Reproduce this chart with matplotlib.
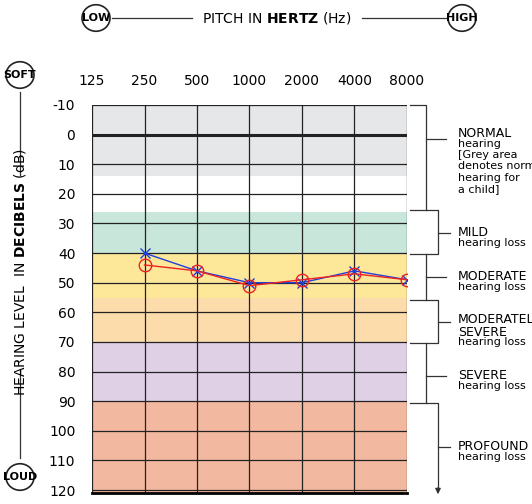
import matplotlib
matplotlib.use("Agg")
import matplotlib.pyplot as plt
from matplotlib.lines import Line2D
from matplotlib.patches import Circle, FancyArrowPatch

freqs = [125, 250, 500, 1000, 2000, 4000, 8000]
levels = list(range(-10, 130, 10))
x_freqs = [250, 500, 1000, 2000, 4000, 8000]
x_values = [40, 46, 50, 50, 46, 49]      # blue crosses
o_values = [44, 46, 51, 49, 47, 49]      # red circles

bands = [(-10, 14, "#e6e7e8"), (26, 40, "#c8e6da"), (40, 55, "#fde799"),
         (55, 70, "#fddcab"), (70, 90, "#dfd0e6"), (90, 121, "#f2b8a0")]

W, H = 532, 504
fig = plt.figure(figsize=(W / 100, H / 100), dpi=100)
ax = fig.add_axes([92 / W, 1 - 493 / H, 315 / W, 388 / H])


def px(x, y):
    return x / W, 1 - y / H


def fline(xs, ys, **kw):
    fx = [x / W for x in xs]
    fy = [1 - y / H for y in ys]
    fig.add_artist(Line2D(fx, fy, transform=fig.transFigure, color="#333",
                          lw=0.9, **kw))


idx = {f: i for i, f in enumerate(freqs)}
for lo, hi, c in bands:
    ax.axhspan(lo, hi, color=c, lw=0, zorder=0)
for i in range(len(freqs)):
    ax.axvline(i, color="#222", lw=0.9, zorder=1)
for lv in levels:
    ax.axhline(lv, color="#222", lw=2.2 if lv == 0 else 0.9, zorder=1)

xs = [idx[f] for f in x_freqs]
ax.plot(xs, x_values, color="#1f3fdb", lw=1, marker="x", ms=7, mew=1, zorder=3)
ax.plot(xs, o_values, color="#ee2222", lw=1, marker="o", ms=9, mfc="none",
        mew=1, zorder=3)

ax.set_xlim(0, 6)
ax.set_ylim(121, -10)
ax.xaxis.tick_top()
ax.set_xticks(range(len(freqs)))
ax.set_xticklabels([str(f) for f in freqs], fontsize=10)
ax.set_yticks(levels)
ax.set_yticklabels([str(l) for l in levels], fontsize=10)
ax.tick_params(length=0, pad=12)
for s in ax.spines.values():
    s.set_visible(False)
ax.spines["bottom"].set_visible(True)
ax.spines["bottom"].set_linewidth(2)

# header
for cx, lab in [(96, "LOW"), (462, "HIGH")]:
    fig.add_artist(Circle(px(cx, 18), 14 / W, transform=fig.transFigure,
                          fc="white", ec="#222", lw=1.2))
    fig.text(*px(cx, 18), lab, ha="center", va="center", fontsize=8,
             fontweight="bold")
fline([112, 192], [18, 18])
fline([362, 446], [18, 18])
fig.text(*px(277, 18), "PITCH IN $\\mathbf{HERTZ}$ (Hz)", ha="center",
         va="center", fontsize=10)

# left axis
for cy, lab in [(75, "SOFT"), (477, "LOUD")]:
    fig.add_artist(Circle(px(20, cy), 14 / W, transform=fig.transFigure,
                          fc="white", ec="#222", lw=1.2))
    fig.text(*px(20, cy), lab, ha="center", va="center", fontsize=8,
             fontweight="bold")
fline([20, 20], [92, 175])
fline([20, 20], [370, 458])
fig.text(*px(20, 272), "HEARING LEVEL  IN $\\mathbf{DECIBELS}$ (dB)",
         ha="center", va="center", rotation=90, fontsize=10)

# right brackets
fline([410, 426, 426], [105, 105, 210])
fline([426, 446], [139, 139])
fline([410, 438, 438, 410], [210, 210, 254, 254])
fline([438, 450], [233, 233])
fline([426, 426], [254, 300])
fline([426, 446], [277, 277])
fline([410, 438, 438, 410], [300, 300, 343, 343])
fline([438, 450], [322, 322])
fline([426, 426], [343, 403])
fline([426, 446], [376, 376])
fline([410, 438, 438], [403, 403, 490])
fline([438, 450], [447, 447])
fig.add_artist(FancyArrowPatch(px(438, 485), px(438, 497),
                               transform=fig.transFigure, arrowstyle="-|>",
                               mutation_scale=8, color="#333", lw=0.9))

labels = [(127, "NORMAL", "hearing\n[Grey area\ndenotes normal\nhearing for\na child]"),
          (226, "MILD", "hearing loss"),
          (270, "MODERATE", "hearing loss"),
          (313, "MODERATELY\nSEVERE", "hearing loss"),
          (369, "SEVERE", "hearing loss"),
          (440, "PROFOUND", "hearing loss")]
for y, head, sub in labels:
    n = head.count("\n") + 1
    fig.text(*px(458, y), head, ha="left", va="top", fontsize=9,
             linespacing=1.05)
    fig.text(*px(458, y + 12 * n), sub, ha="left", va="top", fontsize=8,
             linespacing=1.15)

fig.savefig("out.png", dpi=100, facecolor="white")
